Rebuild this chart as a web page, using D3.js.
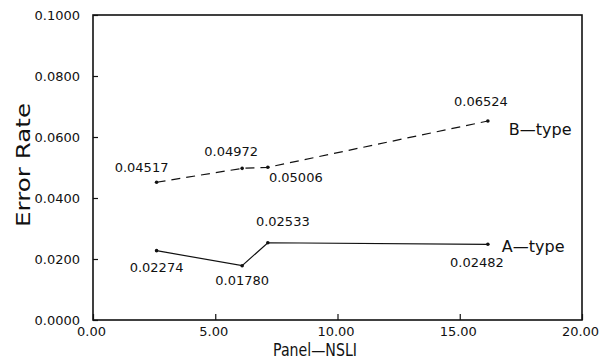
<!DOCTYPE html>
<html>
<head>
<meta charset="utf-8">
<script src="https://cdn.jsdelivr.net/npm/d3@7"></script>
<style>
  body { margin: 0; background: #fff; }
  svg text { font-family: "DejaVu Sans", sans-serif; fill: #111; }
</style>
</head>
<body>
<script>
// chart values
var panelNSLI = [2.6, 6.1, 7.15, 16.15];
var bType = [0.04517, 0.04972, 0.05006, 0.06524];
var aType = [0.02274, 0.01780, 0.02533, 0.02482];
var bLabels = ["0.04517", "0.04972", "0.05006", "0.06524"];
var aLabels = ["0.02274", "0.01780", "0.02533", "0.02482"];
var xTicks = [0, 5, 10, 15, 20];
var yTicks = [0, 0.02, 0.04, 0.06, 0.08, 0.1];

function draw_chart() {
    var width = 604;
    var height = 360;
    var margin = {left: 93, right: 22, top: 15, bottom: 40};

    var svg = d3.select("body").append("svg")
                .attr("width", width)
                .attr("height", height);

    var x = d3.scaleLinear().domain([0, 20])
              .range([margin.left, width - margin.right]);
    var y = d3.scaleLinear().domain([0, 0.1])
              .range([height - margin.bottom, margin.top]);

    // frame
    svg.append("rect")
       .attr("x", x(0)).attr("y", y(0.1))
       .attr("width", x(20) - x(0)).attr("height", y(0) - y(0.1))
       .attr("fill", "none").attr("stroke", "#111").attr("stroke-width", 1.6);

    // axes, ticks point inward
    var xAxis = d3.axisBottom(x).tickValues(xTicks)
                  .tickSizeInner(-6).tickSizeOuter(0).tickPadding(10)
                  .tickFormat(d3.format(".2f"));
    var gx = svg.append("g")
                .attr("transform", "translate(0," + y(0) + ")")
                .call(xAxis);
    gx.select(".domain").remove();
    gx.selectAll("text").attr("font-size", 13).attr("dy", "0.45em")
      .attr("dx", -2);

    var yAxis = d3.axisLeft(y).tickValues(yTicks)
                  .tickSizeInner(-5).tickSizeOuter(0).tickPadding(13)
                  .tickFormat(d3.format(".4f"));
    var gy = svg.append("g")
                .attr("transform", "translate(" + x(0) + ",0)")
                .call(yAxis);
    gy.select(".domain").remove();
    gy.selectAll("text").attr("font-size", 13);
    svg.selectAll(".tick line").attr("stroke", "#111").attr("stroke-width", 1.2);

    // axis titles
    svg.append("text")
       .attr("x", 273).attr("y", 356)
       .attr("font-size", 18)
       .attr("textLength", 84).attr("lengthAdjust", "spacingAndGlyphs")
       .text("Panel\u2014NSLI");
    svg.append("text")
       .attr("transform", "translate(30,165) rotate(-90)")
       .attr("text-anchor", "middle").attr("font-size", 20)
       .attr("textLength", 124).attr("lengthAdjust", "spacingAndGlyphs")
       .text("Error  Rate");

    var line = d3.line()
                 .x(function(d) { return x(d[0]); })
                 .y(function(d) { return y(d[1]); });

    var bData = d3.zip(panelNSLI, bType);
    var aData = d3.zip(panelNSLI, aType);

    svg.append("path").datum(bData)
       .attr("d", line).attr("fill", "none")
       .attr("stroke", "#111").attr("stroke-width", 1.2)
       .attr("stroke-dasharray", "9,6");
    svg.append("path").datum(aData)
       .attr("d", line).attr("fill", "none")
       .attr("stroke", "#111").attr("stroke-width", 1.2);

    svg.selectAll("circle.pt")
       .data(bData.concat(aData))
       .enter()
       .append("circle")
       .attr("class", "pt")
       .attr("cx", function(d) { return x(d[0]); })
       .attr("cy", function(d) { return y(d[1]); })
       .attr("r", 1.8)
       .attr("fill", "#111");

    // value labels: offsets relative to each point
    var bOff = [[-15, -10], [-11, -12], [28, 15], [-7, -15]];
    var aOff = [[0, 21], [0, 19], [15, -17], [-11, 23]];

    svg.selectAll("text.blab")
       .data(bData)
       .enter()
       .append("text")
       .attr("class", "blab")
       .attr("x", function(d, i) { return x(d[0]) + bOff[i][0]; })
       .attr("y", function(d, i) { return y(d[1]) + bOff[i][1]; })
       .attr("text-anchor", "middle").attr("font-size", 13)
       .text(function(d, i) { return bLabels[i]; });

    svg.selectAll("text.alab")
       .data(aData)
       .enter()
       .append("text")
       .attr("class", "alab")
       .attr("x", function(d, i) { return x(d[0]) + aOff[i][0]; })
       .attr("y", function(d, i) { return y(d[1]) + aOff[i][1]; })
       .attr("text-anchor", "middle").attr("font-size", 13)
       .text(function(d, i) { return aLabels[i]; });

    // series names
    var last = panelNSLI.length - 1;
    svg.append("text")
       .attr("x", x(panelNSLI[last]) + 21).attr("y", y(bType[last]) + 14)
       .attr("font-size", 16).text("B\u2014type");
    svg.append("text")
       .attr("x", x(panelNSLI[last]) + 14).attr("y", y(aType[last]) + 8)
       .attr("font-size", 16).text("A\u2014type");
}

document.addEventListener("DOMContentLoaded", draw_chart());
</script>
</body>
</html>
